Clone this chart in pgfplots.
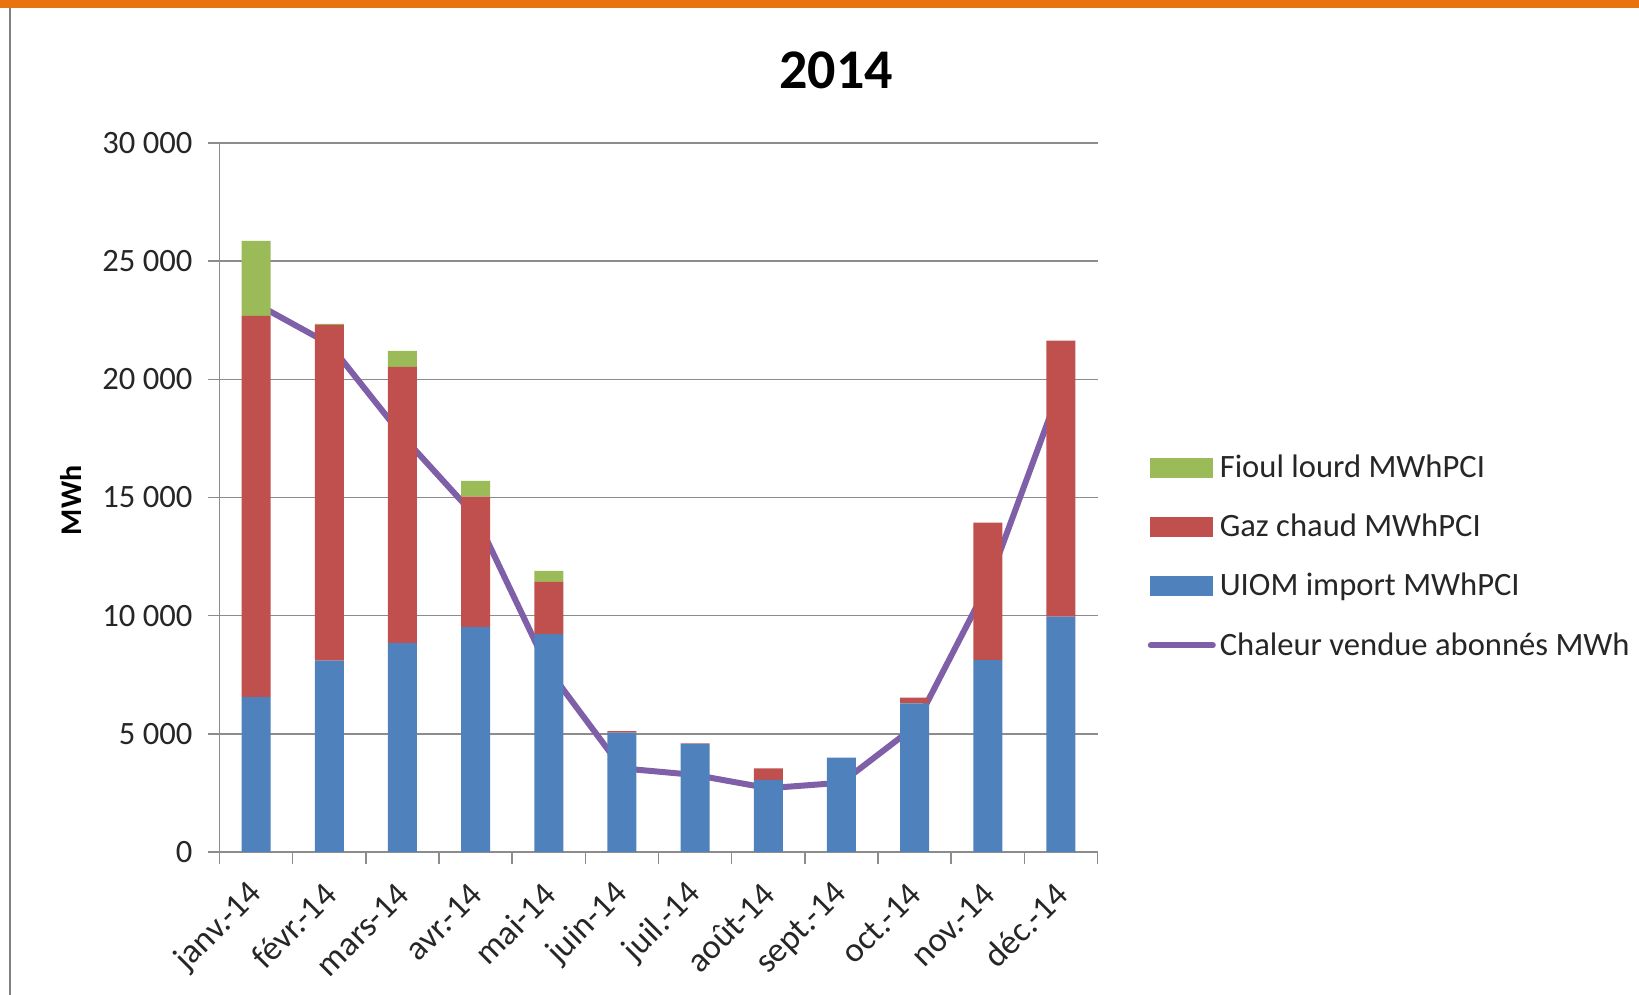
\documentclass[border=0pt]{standalone}
\usepackage{fontspec}
\setmainfont{Carlito}
\usepackage{pgfplots}
\usepackage{pgfplotstable}
\pgfplotsset{compat=1.18}
\definecolor{cBlue}{HTML}{4F81BD}
\definecolor{cRed}{HTML}{C0504D}
\definecolor{cGreen}{HTML}{9BBB59}
\definecolor{cPurple}{HTML}{7F5FA8}
\definecolor{gridgray}{HTML}{8C8C8C}
\definecolor{frameorange}{HTML}{E8730F}
\definecolor{txt}{HTML}{262626}
\pgfplotstableread{
x uiom gaz fioul chaleur
0 6550 16130 3180 23200
1 8100 14200 50 21500
2 8840 11690 670 17600
3 9520 5520 660 14200
4 9220 2210 470 7700
5 5050 60 0 3540
6 4560 40 0 3260
7 3050 490 0 2700
8 3990 0 0 2930
9 6290 240 0 5300
10 8120 5820 0 11300
11 9960 11680 0 19700
}\data
\begin{document}
\begin{tikzpicture}[x=1pt,y=1pt]
\path[use as bounding box] (0,0) rectangle (819.5,497.5);
\fill[frameorange] (0,493.5) rectangle (819.5,497.5);
\draw[gray,line width=0.8pt] (5,0) -- (5,493.5);
\node[font=\fontsize{28}{32}\selectfont\bfseries, text=black] at (418,462.5) {2014};
\begin{axis}[
  at={(109.75pt,71.5pt)}, anchor=south west,
  scale only axis, width=439pt, height=354.5pt,
  xmin=-0.5, xmax=11.5, ymin=0, ymax=30000,
  ybar stacked, bar width=14.5pt,
  axis lines*=left,
  axis line style={draw=gridgray, line width=0.7pt},
  scaled y ticks=false,
  ytick={0,5000,...,30000},
  yticklabels={0,5 000,10 000,15 000,20 000,25 000,30 000},
  ymajorgrids, grid style={gridgray, line width=0.7pt},
  tick align=outside, major tick length=6pt,
  tick style={gridgray, line width=0.7pt},
  xtick={-0.5,0.5,...,11.5},
  x tick label as interval,
  xticklabels={janv.-14,févr.-14,mars-14,avr.-14,mai-14,juin-14,juil.-14,août-14,sept.-14,oct.-14,nov.-14,déc.-14},
  xticklabel shift={11pt},
  xticklabel style={xshift=2pt, rotate=45, anchor=east, font=\fontsize{17.3}{20}\selectfont, text=txt, inner sep=2pt},
  yticklabel style={font=\fontsize{16.3}{19}\selectfont, text=txt, xshift=-4pt},
  ylabel={MWh},
  ylabel style={at={(axis description cs:-0.169,0.496)}, rotate=0, anchor=center, font=\fontsize{15}{18}\selectfont\bfseries, text=black},
  legend style={at={(1.05,0.572)}, anchor=north west, draw=none, fill=none,
    font=\fontsize{16.3}{19}\selectfont, text=txt, row sep=12.8pt,
    /tikz/every even column/.append style={column sep=0pt}},
  legend cell align=left,
]
\addlegendimage{legend image code/.code={\fill[cGreen] (0pt,-4.75pt) rectangle (31pt,4.75pt);}}
\addlegendentry{Fioul lourd MWhPCI}
\addlegendimage{legend image code/.code={\fill[cRed] (0pt,-4.75pt) rectangle (31pt,4.75pt);}}
\addlegendentry{Gaz chaud MWhPCI}
\addlegendimage{legend image code/.code={\fill[cBlue] (0pt,-4.75pt) rectangle (31pt,4.75pt);}}
\addlegendentry{UIOM import MWhPCI}
\addlegendimage{legend image code/.code={\draw[cPurple, line width=3pt, line cap=round] (0pt,0pt) -- (31pt,0pt);}}
\addlegendentry{Chaleur vendue abonnés MWh}
\addplot[fill=cBlue, draw=none, forget plot] table[x=x, y=uiom] {\data};
\addplot[fill=cRed, draw=none, forget plot] table[x=x, y=gaz] {\data};
\addplot[fill=cGreen, draw=none, forget plot] table[x=x, y=fioul] {\data};
\addplot[sharp plot, stack plots=false, cPurple, line width=3pt, line join=round, line cap=round, mark=none, forget plot] table[x=x, y=chaleur] {\data};
\end{axis}
\end{tikzpicture}
\end{document}
